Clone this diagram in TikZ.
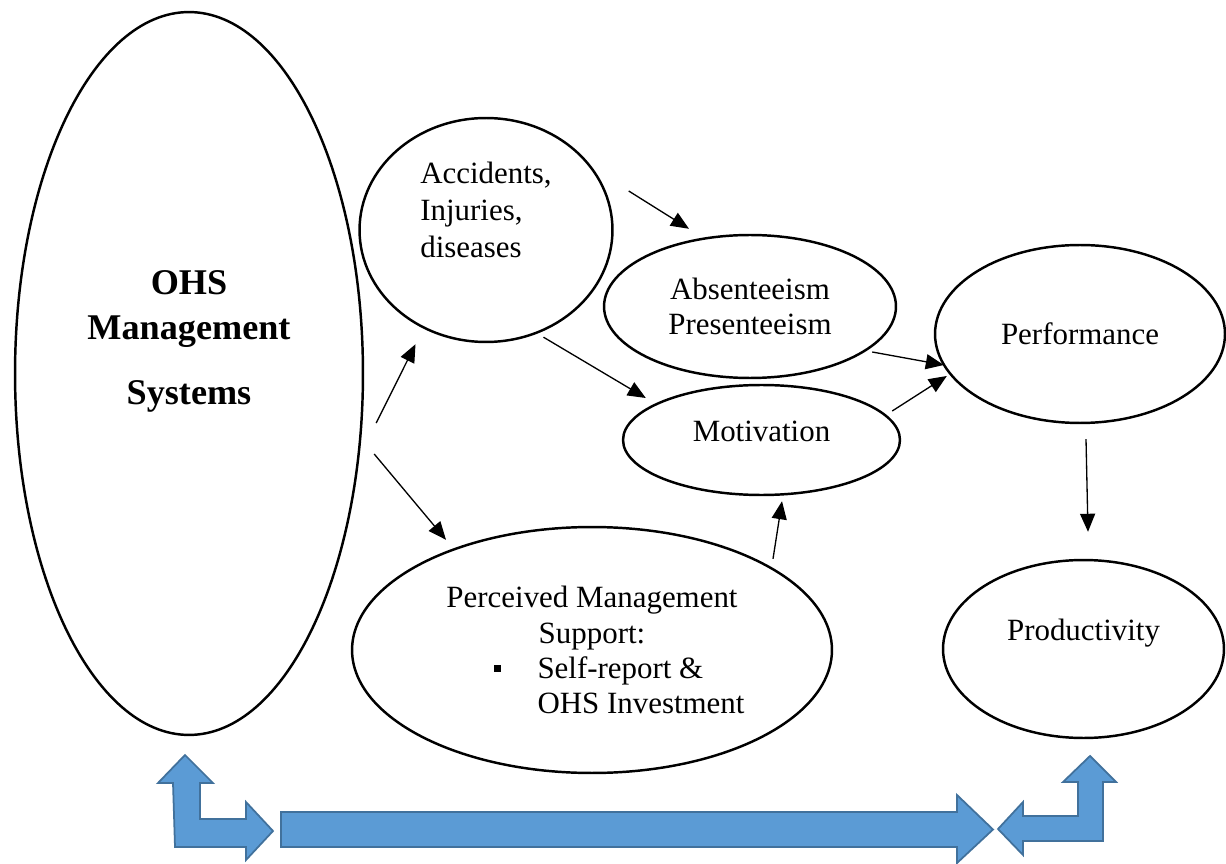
\documentclass[tikz,border=0pt]{standalone}
\usepackage{fontspec}
\setmainfont{Liberation Serif}
\usetikzlibrary{arrows.meta,shapes.geometric}
\definecolor{boxblue}{HTML}{5B9BD5}
\definecolor{boxedge}{HTML}{41719C}
\tikzset{
  bubble/.style={draw, ellipse, line width=1.4pt, inner sep=0pt, align=center, font=\fontsize{17.6}{20}\selectfont},
  link/.style={-{Triangle[length=0.36cm, width=0.3cm]}, line width=0.75pt},
  fatarrow/.style={fill=boxblue, draw=boxedge, line width=1pt, line join=miter}
}
\begin{document}
\begin{tikzpicture}[x=0.02cm, y=-0.02cm]
                    \useasboundingbox (0, 0) rectangle (1226, 864);
                    \node[bubble, minimum width=6.96cm, minimum height=14.46cm, font=\bfseries\fontsize{20.6}{25.6}\selectfont, text depth=1.43cm] (ohs) at (189, 373.5) {OHS\\Management\\[0.4cm]Systems};
                    \node[bubble, minimum width=5.06cm, minimum height=4.48cm, align=left, font=\fontsize{17.6}{21}\selectfont, text depth=0.82cm] (acc) at (486, 230) {Accidents,\\Injuries,\\diseases};
                    \node[bubble, minimum width=5.84cm, minimum height=2.86cm] (abs) at (750, 306.5) {Absenteeism\\Presenteeism};
                    \node[bubble, minimum width=5.54cm, minimum height=2.2cm, text depth=0.36cm] (mot) at (761.5, 440) {Motivation};
                    \node[bubble, minimum width=5.8cm, minimum height=3.56cm] (perf) at (1080, 334) {Performance};
                    \node[bubble, minimum width=5.62cm, minimum height=3.56cm, text depth=0.76cm] (prod) at (1083.5, 649) {Productivity};
                    \node[bubble, minimum width=9.6cm, minimum height=4.92cm] (pms) at (592, 650) {Perceived Management\\Support:\\\makebox[5.4cm][l]{\hspace{0.74cm}\raisebox{0.13cm}{\rule{0.14cm}{0.14cm}}\hspace{0.73cm}Self-report \&}\\\makebox[5.4cm][l]{\hspace{1.61cm}OHS Investment}};
                    \draw[link] ([shift={(12, 49.5)}]ohs.east) -- ([shift={(-70.5, 1)}]acc.south);
                    \draw[link] ([shift={(10, 80.5)}]ohs.east) -- ([shift={(-146, 14)}]pms.north);
                    \draw[link] ([shift={(15, -39)}]acc.east) -- ([shift={(-61, -5)}]abs.north);
                    \draw[link] ([shift={(57.5, -6)}]acc.south) -- ([shift={(24, -42)}]mot.west);
                    \draw[link] ([shift={(-25, 45.5)}]abs.east) -- ([shift={(10, 31)}]perf.west);
                    \draw[link] ([shift={(-9, -29)}]mot.east) -- ([shift={(13, 42)}]perf.west);
                    \draw[link] ([shift={(181, 33)}]pms.north) -- ([shift={(20.5, 5)}]mot.south);
                    \draw[link] ([shift={(6, 15)}]perf.south) -- ([shift={(4.5, -27)}]prod.north);
                    \draw[fatarrow] (185, 755) -- (213, 783) -- (200, 783) -- (200, 819) -- (246, 819) -- (246, 802) -- (273, 831) -- (246, 860) -- (246, 847) -- (175, 847) -- (173, 783) -- (158, 783) -- cycle;
                    \draw[fatarrow] (281, 812) -- (957, 812) -- (957, 795) -- (993, 829.5) -- (957, 863) -- (957, 847) -- (281, 847) -- cycle;
                    \draw[fatarrow] (998, 829) -- (1023, 802) -- (1023, 816) -- (1078, 816) -- (1078, 782) -- (1063, 782) -- (1090, 756) -- (1116, 782) -- (1103, 782) -- (1103, 841) -- (1023, 841) -- (1023, 855) -- cycle;
\end{tikzpicture}
\end{document}
